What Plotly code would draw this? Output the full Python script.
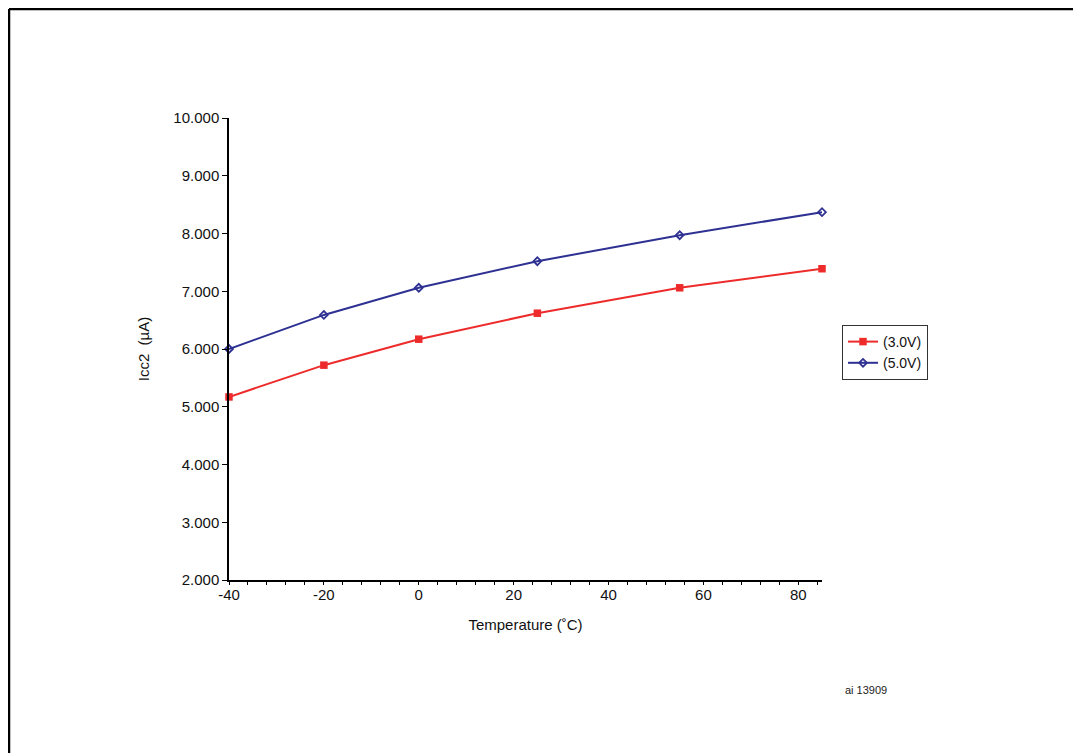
import plotly.graph_objects as go

temperature = [-40, -20, 0, 25, 55, 85]
icc2_3v0 = [5.17, 5.72, 6.17, 6.62, 7.06, 7.39]
icc2_5v0 = [6.00, 6.59, 7.06, 7.52, 7.97, 8.37]
series_names = ["(3.0V)", "(5.0V)"]
x_tick_values = [-40, -20, 0, 20, 40, 60, 80]
x_tick_labels = ["-40", "-20", "0", "20", "40", "60", "80"]

# page body has an 8px margin; work in screen pixels and convert
OFF = 8
W, H = 1081 - OFF, 753 - OFF
PL, PR, PT, PB = 229, 822, 118, 580  # plot area in screen pixels
L, T = PL - OFF, PT - OFF
R, B = W - (PR - OFF), H - (PB - OFF)
pw, ph = PR - PL, PB - PT

def px_to_paper_x(px):
    return (px - PL) / pw

def px_to_paper_y(py):
    return (PB - py) / ph

red = "#EE2B2B"
blue = "#2E3192"
font = "Liberation Sans, Arial, Helvetica, sans-serif"

fig = go.Figure()
fig.add_trace(go.Scatter(
    x=temperature, y=icc2_3v0, name=series_names[0], mode="lines+markers",
    line=dict(color=red, width=2),
    marker=dict(symbol="square", size=7.5, color=red),
    cliponaxis=False,
))
fig.add_trace(go.Scatter(
    x=temperature, y=icc2_5v0, name=series_names[1], mode="lines+markers",
    line=dict(color=blue, width=2),
    marker=dict(symbol="diamond-open", size=6, color=blue, line=dict(width=1.8, color=blue)),
    cliponaxis=False,
))

fig.update_layout(
    width=W, height=H,
    margin=dict(l=L, r=R, t=T, b=B, autoexpand=False),
    paper_bgcolor="white", plot_bgcolor="white",
    font=dict(family=font, size=15, color="#111111"),
    showlegend=True,
    legend=dict(
        x=px_to_paper_x(842), y=px_to_paper_y(325), xanchor="left", yanchor="top",
        bordercolor="#333333", borderwidth=1, bgcolor="white",
        font=dict(family=font, size=14, color="#111111"),
        itemwidth=30, tracegroupgap=0,
    ),
    xaxis=dict(
        range=[-40, 85], tickvals=x_tick_values, ticktext=x_tick_labels,
        ticks="outside", ticklen=3, tickwidth=1,
        tickcolor="black", showline=True, linecolor="black", linewidth=1.5,
        showgrid=False, zeroline=False, ticklabelstandoff=-3,
        minor=dict(dtick=4, tick0=0, ticks="outside", ticklen=3, tickcolor="black", showgrid=False),
        title=dict(text="Temperature (˚C)", standoff=18, font=dict(size=15)),
        tickfont=dict(size=15),
    ),
    yaxis=dict(
        range=[2, 10], dtick=1, tickformat=".3f", ticks="outside", ticklen=5, tickwidth=1,
        tickcolor="black", showline=True, linecolor="black", linewidth=1.5,
        showgrid=False, zeroline=False,
        title=dict(text="Icc2  (µA)", standoff=20, font=dict(size=15)),
        tickfont=dict(size=15),
    ),
    shapes=[
        dict(type="line", xref="paper", yref="paper",
             x0=px_to_paper_x(9), x1=px_to_paper_x(1100),
             y0=px_to_paper_y(9), y1=px_to_paper_y(9),
             line=dict(color="black", width=2.5)),
        dict(type="line", xref="paper", yref="paper",
             x0=px_to_paper_x(9), x1=px_to_paper_x(9),
             y0=px_to_paper_y(9), y1=px_to_paper_y(780),
             line=dict(color="black", width=2.5)),
    ],
    annotations=[
        dict(text="ai 13909", xref="paper", yref="paper",
             x=px_to_paper_x(843), y=px_to_paper_y(690), xanchor="left", yanchor="middle",
             showarrow=False, font=dict(family=font, size=11, color="#222222")),
    ],
)

fig.write_html("out.html")
